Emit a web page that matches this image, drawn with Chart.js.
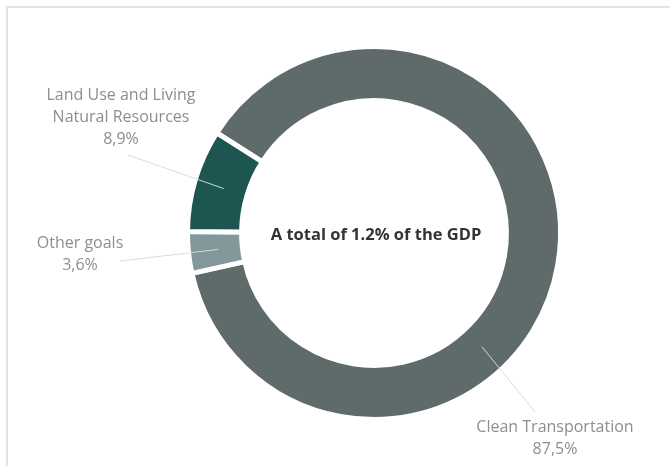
<!DOCTYPE html>
<html>
<head>
<meta charset="utf-8">
<title>Green bond allocation</title>
<script src="https://cdn.jsdelivr.net/npm/chart.js@4.4.0/dist/chart.umd.min.js"></script>
<style>
  html, body { margin: 0; padding: 0; background: #fff; }
  .wrap { position: relative; width: 670px; height: 466px; overflow: hidden; }
  .frame { position: absolute; left: 6px; top: 6px; width: 720px; height: 520px; border: 2px solid #e3e3e3; box-sizing: border-box; }
  canvas { position: absolute; left: 0; top: 0; }
</style>
</head>
<body>
<div class="wrap">
  <div class="frame"></div>
  <canvas id="goals" width="670" height="466"></canvas>
</div>
<script>
// shares of the allocation, in percent
const categories = ["Clean Transportation", "Other goals", "Land Use and Living Natural Resources"];
const shares = [87.5, 3.6, 8.9];
const labelLines = [["Clean Transportation"], ["Other goals"], ["Land Use and Living", "Natural Resources"]];
const centerText = "A total of 1.2% of the GDP";

const sliceColors = ["#5f6b6b", "#82989a", "#1d5551"];

// where each callout sits; angle (deg from top) overrides the slice middle
const callouts = [
  { x: 555, y: 427, lineEnd: [535, 412], angle: 136.5 },
  { x: 80, y: 243, lineEnd: [120, 261] },
  { x: 121, y: 95, lineEnd: [128, 155] }
];

const fmt = v => v.toFixed(1).replace(".", ",") + "%";

const calloutPlugin = {
  id: "callouts",
  afterDatasetsDraw(chart) {
    const ctx = chart.ctx;
    const arcs = chart.getDatasetMeta(0).data;
    ctx.save();
    arcs.forEach((arc, i) => {
      const p = arc.getProps(["x", "y", "startAngle", "endAngle", "innerRadius", "outerRadius"], true);
      const c = callouts[i];
      const a = c.angle !== undefined ? (c.angle - 90) * Math.PI / 180 : (p.startAngle + p.endAngle) / 2;
      const r = p.innerRadius + (p.outerRadius - p.innerRadius) * 0.45;
      ctx.beginPath();
      ctx.moveTo(p.x + r * Math.cos(a), p.y + r * Math.sin(a));
      ctx.lineTo(c.lineEnd[0], c.lineEnd[1]);
      ctx.strokeStyle = "rgba(214,220,220,0.95)";
      ctx.lineWidth = 1;
      ctx.stroke();

      ctx.fillStyle = "#8e8e8e";
      ctx.font = "16px 'Open Sans'";
      ctx.textAlign = "center";
      ctx.textBaseline = "middle";
      const lines = labelLines[i].concat([fmt(shares[i])]);
      lines.forEach((t, k) => ctx.fillText(t, c.x, c.y + k * 22));
    });

    const first = arcs[0];
    ctx.fillStyle = "#333";
    ctx.font = "bold 16.5px 'Open Sans'";
    ctx.textAlign = "center";
    ctx.textBaseline = "middle";
    ctx.fillText(centerText, first.x + 2, first.y + 2);
    ctx.restore();
  }
};

new Chart(document.getElementById("goals"), {
  type: "doughnut",
  data: {
    labels: categories,
    datasets: [{
      data: shares,
      backgroundColor: sliceColors,
      borderColor: "#ffffff",
      borderWidth: 5,
      radius: 186.5,
      cutout: "71%"
    }]
  },
  options: {
    responsive: false,
    animation: false,
    devicePixelRatio: 1,
    rotation: -57.5,
    layout: { padding: { left: 180, right: 102, top: 40, bottom: 40 } },
    plugins: { legend: { display: false }, tooltip: { enabled: false } }
  },
  plugins: [calloutPlugin]
});
</script>
</body>
</html>
